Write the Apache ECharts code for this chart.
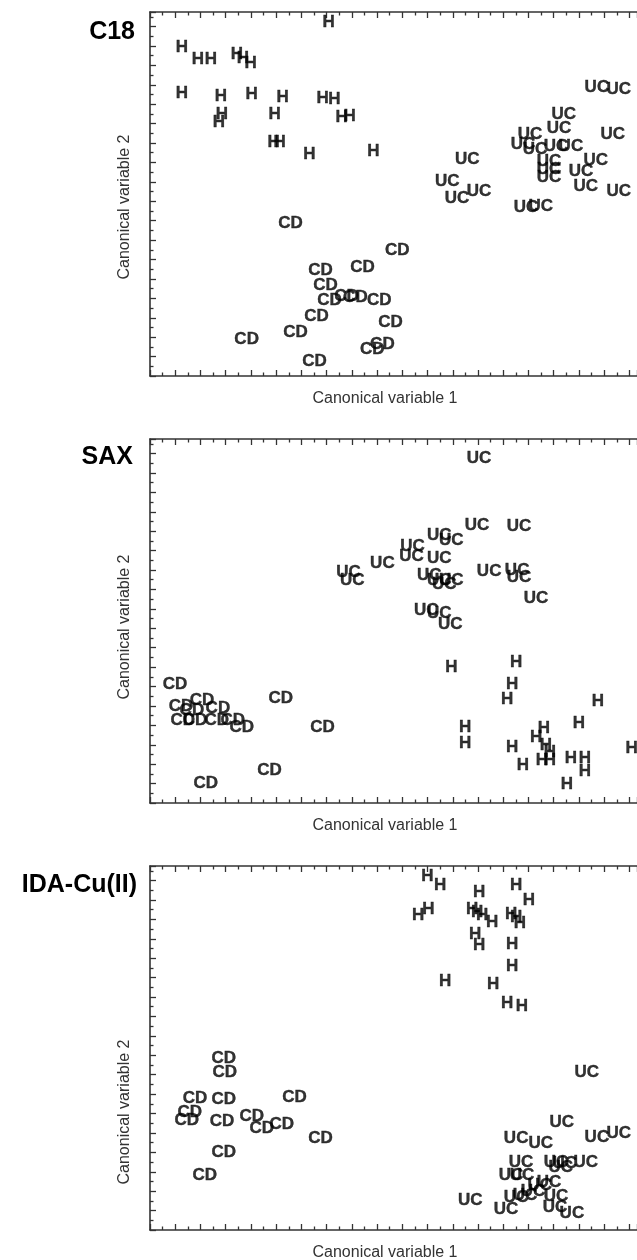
<!DOCTYPE html>
<html>
<head>
<meta charset="utf-8">
<title>Canonical discriminant plots</title>
<script src="https://cdn.jsdelivr.net/npm/echarts@6/dist/echarts.min.js"></script>
<style>
  html, body { margin: 0; padding: 0; background: #fff; }
  #chart { width: 637px; height: 1260px; }
</style>
</head>
<body>
<div id="chart"></div>
<script>
// Panel titles and axis titles
const panelTitles = ['C18', 'SAX', 'IDA-Cu(II)'];
const xTitle = 'Canonical variable 1';
const yTitle = 'Canonical variable 2';
const groups = ['H', 'UC', 'CD'];

// Canonical scores [cv1, cv2] per group, C18 surface
const c18H = [
  [1.26, 16.95], [1.90, 16.33], [2.41, 16.33], [3.44, 16.59], [3.68, 16.38], [3.99, 16.13],
  [1.26, 14.58], [2.81, 14.43], [4.03, 14.53], [5.26, 14.37], [4.94, 13.50], [2.85, 13.50],
  [2.73, 13.09], [4.90, 12.06], [5.14, 12.06], [6.32, 11.44], [7.08, 18.24], [6.84, 14.32],
  [7.31, 14.27], [7.59, 13.34], [7.91, 13.40], [8.85, 11.59]
];
const c18UC = [
  [17.71, 14.89], [18.58, 14.79], [16.40, 13.50], [16.21, 12.78], [15.06, 12.47], [18.34, 12.47],
  [14.78, 11.95], [15.26, 11.70], [16.09, 11.85], [16.68, 11.85], [15.81, 11.08], [15.81, 10.66],
  [15.81, 10.25], [17.67, 11.13], [17.08, 10.56], [17.27, 9.79], [18.58, 9.53], [12.57, 11.18],
  [11.78, 10.05], [13.04, 9.53], [12.17, 9.17], [14.90, 8.71], [15.49, 8.76]
];
const c18CD = [
  [5.57, 7.88], [9.80, 6.49], [6.76, 5.46], [8.42, 5.62], [6.96, 4.69], [7.11, 3.92],
  [7.79, 4.12], [8.14, 4.07], [9.09, 3.92], [6.60, 3.09], [9.53, 2.78], [5.77, 2.27],
  [3.83, 1.91], [9.21, 1.65], [8.81, 1.39], [6.52, 0.77]
];

// SAX surface
const saxH = [
  [11.94, 7.01], [14.51, 7.26], [14.35, 6.13], [14.15, 5.36], [17.75, 5.26], [17.00, 4.12],
  [12.49, 3.92], [12.49, 3.09], [14.35, 2.89], [14.78, 1.96], [15.61, 3.86], [15.30, 3.40],
  [15.69, 2.99], [15.85, 2.63], [15.53, 2.22], [15.85, 2.22], [16.68, 2.32], [17.23, 2.32],
  [17.23, 1.65], [16.52, 0.98], [19.09, 2.83]
];
const saxUC = [
  [13.04, 17.77], [12.96, 14.32], [14.62, 14.27], [11.46, 13.81], [11.94, 13.55], [10.40, 13.24],
  [10.36, 12.73], [11.46, 12.62], [9.21, 12.36], [7.87, 11.90], [8.02, 11.49], [11.07, 11.75],
  [11.46, 11.49], [11.94, 11.49], [11.66, 11.28], [13.44, 11.95], [14.55, 12.00], [14.62, 11.64],
  [15.30, 10.56], [10.95, 9.94], [11.46, 9.79], [11.90, 9.22]
];
const saxCD = [
  [0.99, 6.13], [5.18, 5.41], [1.23, 5.00], [2.06, 5.31], [2.69, 4.89], [1.66, 4.79],
  [1.30, 4.28], [1.78, 4.28], [2.65, 4.28], [3.28, 4.28], [3.64, 3.92], [6.84, 3.92],
  [4.74, 1.70], [2.21, 1.03]
];

// IDA-Cu(II) surface
const idaH = [
  [10.99, 18.24], [11.50, 17.77], [13.04, 17.41], [14.51, 17.77], [15.02, 17.00], [10.63, 16.23],
  [11.03, 16.54], [12.77, 16.54], [12.96, 16.38], [13.16, 16.23], [13.56, 15.87], [14.31, 16.28],
  [14.51, 16.13], [14.66, 15.82], [12.89, 15.25], [13.04, 14.68], [14.35, 14.73], [14.35, 13.60],
  [11.70, 12.83], [13.60, 12.67], [14.15, 11.70], [14.74, 11.54]
];
const idaUC = [
  [17.31, 8.14], [16.32, 5.56], [14.51, 4.74], [15.49, 4.48], [17.71, 4.79], [18.58, 5.00],
  [14.70, 3.50], [16.09, 3.50], [16.44, 3.45], [16.28, 3.25], [17.27, 3.50], [14.31, 2.83],
  [14.74, 2.83], [15.81, 2.47], [12.69, 1.55], [14.11, 1.08], [14.51, 1.70], [14.86, 1.80],
  [15.18, 2.01], [15.45, 2.32], [16.09, 1.75], [16.05, 1.18], [16.72, 0.88]
];
const idaCD = [
  [2.92, 8.86], [2.96, 8.14], [1.78, 6.80], [2.92, 6.75], [5.73, 6.85], [1.58, 6.08],
  [1.46, 5.67], [2.85, 5.62], [4.03, 5.87], [4.43, 5.26], [5.22, 5.46], [6.76, 4.74],
  [2.92, 4.02], [2.17, 2.83]
];

const panelData = [
  [c18H, c18UC, c18CD],
  [saxH, saxUC, saxCD],
  [idaH, idaUC, idaCD]
];

// Layout
const GRID_LEFT = 150;
const GRID_WIDTH = 488;
const GRID_HEIGHT = 364;
const GRID_TOPS = [12, 439, 866];
const X_MAX = 19.3;
const Y_MAX = 18.75;
const Y_NAME_CENTERS = [207, 627, 1112];
const TITLE_POS = [[135, 32], [133, 457], [137, 885]];
const FONT = '"Liberation Sans", Arial, Helvetica, sans-serif';
const AXIS_COLOR = '#333';

const grids = [], xAxes = [], yAxes = [], series = [], graphics = [];

const tickStyle = {
  axisLine: { show: true, onZero: false, lineStyle: { color: AXIS_COLOR, width: 1.6 } },
  axisTick: { show: true, inside: true, length: 6, lineStyle: { color: AXIS_COLOR, width: 1.3 } },
  minorTick: { show: true, splitNumber: 2, length: 3.5, lineStyle: { color: AXIS_COLOR, width: 1.3 } },
  axisLabel: { show: false },
  splitLine: { show: false },
  minorSplitLine: { show: false }
};

GRID_TOPS.forEach((top, p) => {
  grids.push({ left: GRID_LEFT, top: top, width: GRID_WIDTH, height: GRID_HEIGHT, containLabel: false });

  // bottom axis carries the data, top axis closes the frame with ticks
  xAxes.push(Object.assign({ type: 'value', gridIndex: p, position: 'bottom', min: 0, max: X_MAX, interval: 1 }, tickStyle));
  xAxes.push(Object.assign({ type: 'value', gridIndex: p, position: 'top', min: 0, max: X_MAX, interval: 1 }, tickStyle));
  yAxes.push(Object.assign({ type: 'value', gridIndex: p, position: 'left', min: 0, max: Y_MAX, interval: 1 }, tickStyle));

  panelData[p].forEach((pts, g) => {
    series.push({
      type: 'scatter',
      name: groups[g],
      xAxisIndex: p * 2,
      yAxisIndex: p,
      data: pts,
      symbol: 'circle',
      symbolSize: 1,
      itemStyle: { color: 'rgba(0,0,0,0)' },
      silent: true,
      label: {
        show: true,
        position: 'inside',
        formatter: groups[g],
        color: '#000',
        textBorderColor: '#000',
        textBorderWidth: 0.4,
        fontFamily: FONT,
        fontWeight: 'bold',
        fontSize: 17
      }
    });
  });

  graphics.push({
    type: 'text',
    x: TITLE_POS[p][0], y: TITLE_POS[p][1],
    style: { text: panelTitles[p], align: 'right', verticalAlign: 'middle',
             fontFamily: FONT, fontWeight: 'bold', fontSize: 25, fill: '#000' }
  });
  graphics.push({
    type: 'text',
    x: GRID_LEFT + GRID_WIDTH / 2 - 9, y: top + GRID_HEIGHT + 23,
    style: { text: xTitle, align: 'center', verticalAlign: 'middle',
             fontFamily: FONT, fontSize: 16, fill: '#333' }
  });
  graphics.push({
    type: 'text',
    x: 125, y: Y_NAME_CENTERS[p],
    rotation: Math.PI / 2,
    style: { text: yTitle, align: 'center', verticalAlign: 'middle',
             fontFamily: FONT, fontSize: 16, fill: '#333' }
  });
});

const chart = echarts.init(document.getElementById('chart'), null, { renderer: 'canvas' });
chart.setOption({
  animation: false,
  backgroundColor: '#fff',
  grid: grids,
  xAxis: xAxes,
  yAxis: yAxes,
  series: series,
  graphic: graphics
});
</script>
</body>
</html>
